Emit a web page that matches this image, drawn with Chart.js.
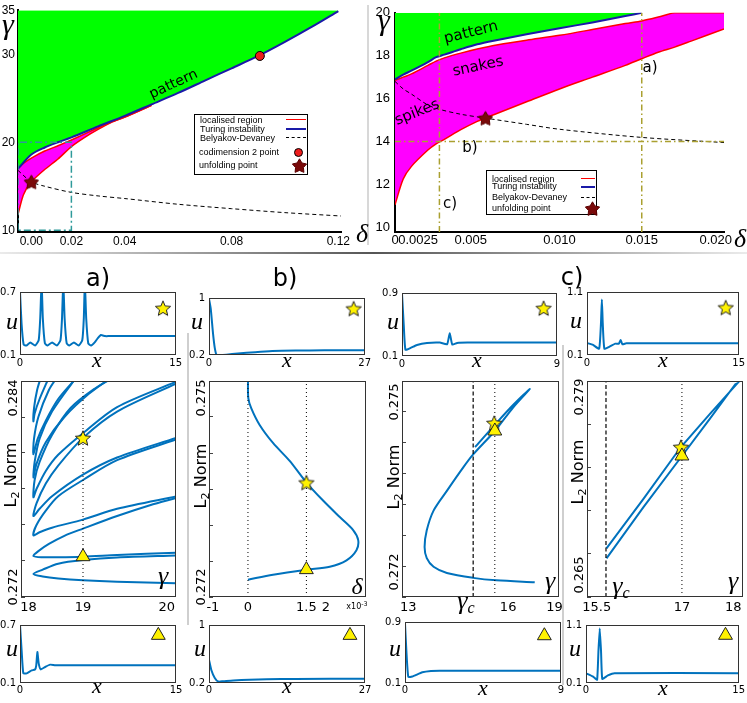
<!DOCTYPE html>
<html><head><meta charset="utf-8">
<script src="https://cdn.jsdelivr.net/npm/chart.js"></script>
<style>
html,body{margin:0;padding:0;background:#fff;}
body{width:747px;height:703px;position:relative;overflow:hidden;font-family:'DejaVu Sans',sans-serif;color:#000;}
canvas{position:absolute;}
.t{position:absolute;white-space:nowrap;line-height:1;}
.leg{position:absolute;background:#fff;border:1px solid #000;box-sizing:border-box;font-family:'Liberation Sans',sans-serif;}
.leg div{position:absolute;white-space:nowrap;line-height:1;}
</style></head><body>
<script>
// ================= DATA =================
// --- top-left phase diagram (delta, gamma) ---
const tlRedDelta   = [0,0.002,0.005,0.01,0.015,0.02,0.025,0.03,0.035,0.04,0.05];
const tlRedUpper   = [17.0,17.6,18.2,19.0,19.6,20.25,20.95,21.65,22.3,22.85,24.2];
const tlRedLower   = [11.8,14.0,15.5,16.9,18.1,19.5,20.55,21.45,22.25,22.85,24.2];
const tlTuringDelta= [0,0.005,0.01,0.015,0.02,0.03,0.04,0.05,0.06,0.07,0.08,0.09,0.1,0.11,0.12];
const tlTuringGamma= [17.0,18.6,19.4,20.0,20.55,21.8,23.0,24.3,25.6,27.0,28.4,29.8,31.4,33.1,34.9];
const tlBDDelta    = [0,0.005,0.01,0.02,0.03,0.04,0.06,0.08,0.1,0.122];
const tlBDGamma    = [16.8,15.5,15.0,14.3,13.9,13.6,12.95,12.45,12.0,11.6];
const tlBoxDelta   = [0,0,0.02,0.02,0];
const tlBoxGamma   = [10,20,20,10,10];
const tlUnfold     = [0.005,15.5];
const tlCodim      = [0.0906,29.8];
const tlXTicks     = [0.005,0.02,0.04,0.06,0.08,0.1,0.12];
const tlXLabels    = ['0.00','0.02','0.04','','0.08','','0.12'];
const tlYTicks     = [10,15,20,25,30,35];
const tlYLabels    = ['10','','20','','30','35'];

// --- top-right zoomed phase diagram ---
const trDelta      = [0,0.0005,0.001,0.002,0.0025,0.003,0.004,0.005,0.006,0.008,0.01,0.012,0.014,0.015,0.016,0.017,0.018,0.02];
const trRedUpper   = [16.85,17.0,17.15,17.55,17.75,17.9,18.12,18.31,18.48,18.72,18.95,19.22,19.5,19.62,19.8,20.0,20.0,20.0];
const trRedLower   = [11.05,12.25,12.84,13.6,13.89,14.1,14.55,14.94,15.25,15.85,16.45,17.0,17.55,17.86,18.16,18.4,18.68,19.25];
const trTuringDelta= [0,0.0005,0.001,0.002,0.0025,0.003,0.004,0.005,0.006,0.008,0.01,0.012,0.014,0.015];
const trTuringGamma= [16.9,17.12,17.3,17.7,17.93,18.05,18.3,18.53,18.7,19.0,19.28,19.55,19.85,20.0];
const trBDDelta    = [0,0.0005,0.001,0.002,0.0027,0.004,0.0055,0.008,0.01,0.015,0.02];
const trBDGamma    = [16.8,16.45,16.21,15.7,15.5,15.27,15.09,14.8,14.57,14.19,13.95];
const trUnfold     = [0.0055,15.09];
const trCutADelta  = [0.015,0.015];   const trCutAGamma = [9.78,20];
const trCutCDelta  = [0.0027,0.0027]; const trCutCGamma = [9.78,20];
const trCutBDelta  = [0,0.02];        const trCutBGamma = [14,14];
const trXTicks     = [0,0.0014,0.0046,0.01,0.015,0.0195];
const trXLabels    = ['0','0.0025','0.005','0.010','0.015','0.020'];
const trYTicks     = [10,12,14,16,18,20];
const trYLabels    = ['10','12','14','16','18','20'];

// --- row 1: profiles at the star (x, u) ---
const r1aX = [0,0.15,0.35,0.6,1.0,1.45,1.8,1.95,2.08,2.2,2.4,2.65,3.1,3.55,3.9,4.05,4.17,4.3,4.5,4.75,5.2,5.65,6.0,6.15,6.25,6.38,6.58,6.85,7.2,7.5,7.8,8.2,8.6,15];
const r1aU = [0.70,0.40,0.20,0.19,0.22,0.19,0.24,0.45,0.80,0.45,0.21,0.19,0.22,0.19,0.24,0.45,0.80,0.45,0.21,0.19,0.22,0.19,0.24,0.45,0.80,0.45,0.21,0.19,0.22,0.26,0.29,0.28,0.28,0.28];
const r1bX = [0,0.3,0.7,1.0,1.3,2,3,5,8,11,15,20,27];
const r1bU = [0.99,0.85,0.5,0.3,0.205,0.20,0.205,0.22,0.24,0.255,0.262,0.265,0.265];
const r1cX = [0,0.1,0.2,0.48,0.87,1.45,2.2,2.62,2.77,2.92,3.2,3.8,9];
const r1cU = [0.89,0.5,0.18,0.2,0.24,0.265,0.27,0.25,0.39,0.245,0.265,0.27,0.27];
const r1dX = [0,0.6,1.2,1.38,1.47,1.56,1.72,2.2,2.8,3.15,3.33,3.5,3.9,15];
const r1dU = [0.29,0.26,0.20,0.6,0.98,0.6,0.20,0.23,0.28,0.28,0.34,0.27,0.285,0.285];
const r1StarX = [13.78,25.1,8.22,13.72];
const r1StarU = [0.547,0.852,0.708,0.854];

// --- row 3: profiles at the triangle ---
const r3aX = [0,0.16,0.32,0.64,1.12,1.44,1.56,1.67,1.8,2.0,2.4,2.9,3.4,15];
const r3aU = [0.7,0.43,0.2,0.2,0.23,0.24,0.28,0.42,0.3,0.24,0.265,0.29,0.283,0.283];
const r3bX = [0,0.4,1.0,1.6,2.5,4.2,7,10,15,27];
const r3bU = [0.52,0.38,0.27,0.22,0.225,0.235,0.245,0.252,0.256,0.258];
const r3cX = [0,0.08,0.19,0.42,1.0,1.5,2.0,9];
const r3cU = [0.88,0.52,0.18,0.185,0.24,0.258,0.262,0.262];
const r3dX = [0,0.7,1.09,1.22,1.35,1.48,1.6,2.15,2.8,15];
const r3dU = [0.267,0.21,0.155,0.64,1.04,0.64,0.17,0.23,0.27,0.27];
const r3TriX = [13.3,24.4,8.04,13.71];
const r3TriU = [0.593,0.857,0.72,0.923];

// --- row 2: bifurcation diagrams (parameter, L2 norm) ---
const snT1G = [20.5,19.55,19.0,18.6,18.35,18.2,18.35,18.6,19.0,19.55,20.5];
const snT1N = [0.27277,0.27285,0.27293,0.27303,0.27314,0.27328,0.27352,0.27385,0.27405,0.27420,0.27431];
const snT2G = [20.5,19.55,19.0,18.6,18.35,18.2,18.28,18.45,18.7,19.0,19.55,20.08,20.5];
const snT2N = [0.27446,0.27433,0.27424,0.27421,0.27421,0.27428,0.27455,0.27495,0.27540,0.27580,0.27650,0.27710,0.27750];
const snT3G = [20.5,19.55,19.0,18.5,18.3,18.2,18.25,18.4,18.6,19.0,19.55,20.5];
const snT3N = [0.27758,0.27690,0.27630,0.27585,0.27560,0.27543,0.27600,0.27680,0.27760,0.27850,0.27960,0.28075];
const snT4G = [20.5,19.55,19.0,18.5,18.3,18.2,18.25,18.4,18.6,19.0,19.55,20.5];
const snT4N = [0.28084,0.27975,0.27880,0.27760,0.27690,0.27650,0.27720,0.27830,0.27930,0.28084,0.28230,0.28385];
const snT5G = [20.5,19.55,19.0,18.6,18.4,18.25,18.2,18.22,18.3,18.5,18.8,19.2,19.5];
const snT5N = [0.28396,0.28255,0.28110,0.27990,0.27900,0.27800,0.27754,0.27850,0.27950,0.28100,0.28250,0.28360,0.28420];
const snT6G = [19.5,19.1,18.7,18.4,18.25,18.2,18.22,18.3,18.5,18.85,19.0];
const snT6N = [0.28430,0.28330,0.28200,0.28060,0.27940,0.27864,0.27950,0.28080,0.28230,0.28400,0.28460];
const snT7G = [18.9,18.6,18.4,18.27,18.2,18.21,18.28,18.45,18.6];
const snT7N = [0.28420,0.28300,0.28180,0.28080,0.27993,0.28080,0.28200,0.28350,0.28430];
const snT8G = [18.45,18.3,18.22,18.2,18.21,18.26,18.32];
const snT8N = [0.28420,0.28300,0.28220,0.28176,0.28250,0.28350,0.28420];
const bD = [0,0.01,0.086,0.30,0.643,1.071,1.5,1.928,2.357,2.70,2.83,2.785,2.53,2.10,1.5,0.643,0];
const bN = [0.275,0.27476,0.27462,0.27439,0.27414,0.27389,0.27359,0.27334,0.27311,0.27293,0.27279,0.27265,0.27251,0.27242,0.27238,0.27231,0.27224];
const cG = [15.36,16.0,16.59,17.13,16.59,16.0,15.30,14.98,14.45,14.02,13.80,13.73,13.80,14.02,14.45,15.30,16.05,17.29];
const cN = [0.27443,0.27479,0.27511,0.27537,0.27507,0.27469,0.27431,0.27410,0.27372,0.27340,0.27308,0.27281,0.27263,0.27249,0.27239,0.27231,0.27227,0.27224];
const dG = [15.53,16.25,16.98,17.55,18.08,18.04,17.55,17.0,16.25,15.53];
const dN = [0.26815,0.27136,0.27472,0.27688,0.27885,0.27879,0.27658,0.27414,0.27082,0.26750];
const r2StarX = [19.0,1.5,15.98,16.98];
const r2StarN = [0.28084,0.27359,0.27482,0.27472];
const r2TriX  = [19.0,1.5,16.0,17.0];
const r2TriN  = [0.27424,0.27238,0.27469,0.27414];

// ================= HELPERS =================
const SERIF = "'Liberation Serif','DejaVu Serif',serif";
const BLUE = '#0072bd';
function starImg(size, fill, stroke, lw, inner) {
  const c = document.createElement('canvas'); c.width = c.height = size;
  const x = c.getContext('2d'); const r = size / 2 - lw; const cx = size / 2, cy = size / 2 + 0.8;
  x.beginPath();
  for (let i = 0; i < 10; i++) { const rr = i % 2 ? r * inner : r; const a = -Math.PI / 2 + i * Math.PI / 5; x.lineTo(cx + rr * Math.cos(a), cy + rr * Math.sin(a)); }
  x.closePath(); x.fillStyle = fill; x.fill(); x.lineWidth = lw; x.strokeStyle = stroke; x.lineJoin = 'round'; x.stroke();
  return c;
}
const yStar = starImg(18, '#fff200', '#222', 1, 0.45);
const rStar = starImg(17, '#7a0a0a', '#5a0000', 1, 0.55);

const pts = (xs, ys) => xs.map((x, i) => ({ x, y: ys[i] }));
function line(xs, ys, o = {}) {
  return Object.assign({ data: pts(xs, ys), showLine: true, pointRadius: 0, borderColor: BLUE, borderWidth: 2, fill: false, tension: 0.3 }, o);
}
function mark(x, y, o) { return Object.assign({ data: [{ x, y }], showLine: false, pointRadius: 8 }, o); }
const starMark = (x, y) => mark(x, y, { pointStyle: yStar, pointRadius: 8 });
const triMark = (x, y) => mark(x, y, { pointStyle: 'triangle', pointRadius: 8, backgroundColor: '#fff200', borderColor: '#222', borderWidth: 1 });

const framePlugin = {
  id: 'frame',
  afterDatasetsDraw(chart, args, opts) {
    if (!opts || !opts.color) return;
    const a = chart.chartArea, ctx = chart.ctx;
    ctx.save(); ctx.strokeStyle = opts.color; ctx.lineWidth = 1;
    ctx.strokeRect(Math.round(a.left) + 0.5, Math.round(a.top) + 0.5, Math.round(a.right - a.left) - 1, Math.round(a.bottom - a.top) - 1);
    ctx.restore();
  }
};
function axis(s, horiz, size) {
  return {
    type: 'linear', min: s.min, max: s.max, z: s.z || 0,
    afterFit(sc) { if (horiz) sc.height = size; else sc.width = size; },
    afterBuildTicks(sc) { sc.ticks = s.ticks.map(v => ({ value: v })); },
    ticks: {
      display: true, autoSkip: false, maxRotation: 0, minRotation: 0,
      padding: s.pad == null ? 3 : s.pad, color: '#000',
      font: { family: s.ff || 'DejaVu Sans', size: s.fs || 10 },
      callback: (v, i) => (s.labels ? s.labels[i] : '')
    },
    grid: { display: true, drawOnChartArea: false, drawTicks: !!s.tl, tickLength: s.tl || 0, color: '#444', lineWidth: 1 },
    border: { display: !!s.bw, color: '#000', width: s.bw || 1 }
  };
}
function plot(rect, m, datasets, xs, ys, frameColor) {
  const [L, T, R, B] = rect, [ml, mt, mr, mb] = m;
  const W = R - L + ml + mr, H = B - T + mt + mb;
  const cv = document.createElement('canvas');
  cv.width = W; cv.height = H;
  Object.assign(cv.style, { left: (L - ml) + 'px', top: (T - mt) + 'px', width: W + 'px', height: H + 'px' });
  document.body.appendChild(cv);
  return new Chart(cv, {
    type: 'scatter',
    data: { datasets },
    options: {
      responsive: false, maintainAspectRatio: false, animation: false, devicePixelRatio: 1, events: [],
      layout: { autoPadding: false, padding: { left: 0, top: mt, right: mr, bottom: 0 } },
      plugins: { legend: { display: false }, tooltip: { enabled: false }, frame: { color: frameColor || null } },
      scales: { x: axis(xs, true, mb), y: axis(ys, false, ml) }
    },
    plugins: [framePlugin]
  });
}
function txt(html, x, y, fs, o = {}) {
  const d = document.createElement('div'); d.className = 't'; d.innerHTML = html;
  d.style.left = x + 'px'; d.style.top = y + 'px'; d.style.fontSize = fs + 'px';
  if (o.ff) d.style.fontFamily = o.ff;
  if (o.it) d.style.fontStyle = 'italic';
  if (o.color) d.style.color = o.color;
  d.style.transform = 'translate(-50%,-50%)' + (o.rot ? ' rotate(' + o.rot + 'deg)' : '');
  document.body.appendChild(d);
}
function rule(x, y, w, h, bg) {
  const d = document.createElement('div');
  Object.assign(d.style, { position: 'absolute', left: x + 'px', top: y + 'px', width: w + 'px', height: h + 'px', background: bg });
  document.body.appendChild(d);
}
const gi = (s, x, y, fs) => txt(s, x, y, fs, { ff: SERIF, it: true });
const blank = a => a.map(() => '');
const range = (a, b, st) => { const r = []; for (let v = a; v <= b + st / 1000; v += st) r.push(+v.toFixed(6)); return r; };

// ================= TOP PANELS =================
plot([18, 9, 341, 232], [18, 9, 22, 20], [
  mark(tlCodim[0], tlCodim[1], { pointStyle: 'circle', pointRadius: 4.5, backgroundColor: '#ee1c1c', borderColor: '#000', borderWidth: 1 }),
  mark(tlUnfold[0], tlUnfold[1], { pointStyle: rStar, pointRadius: 8 }),
  line(tlBoxDelta, tlBoxGamma, { borderColor: '#2e9a9a', borderWidth: 1.5, borderDash: [7, 3, 2, 3], tension: 0 }),
  line(tlBDDelta, tlBDGamma, { borderColor: '#000', borderWidth: 1, borderDash: [4, 3] }),
  line(tlTuringDelta, tlTuringGamma, { borderColor: '#1a1aa8', borderWidth: 2, fill: 'end', backgroundColor: '#00ff00' }),
  line(tlRedDelta, tlRedUpper, { borderColor: '#ff0000', borderWidth: 1.5, tension: 0.2 }),
  line(tlRedDelta, tlRedLower, { borderColor: '#ff0000', borderWidth: 1.5, fill: 5, backgroundColor: '#ff00ff', tension: 0.2 })
], { min: 0, max: 0.121, ticks: tlXTicks, labels: tlXLabels, ff: 'Liberation Sans', fs: 12, pad: 2, bw: 2, z: 1 },
   { min: 9.8, max: 35, ticks: tlYTicks, labels: tlYLabels, ff: 'Liberation Sans', fs: 12, pad: 3, bw: 2, z: 1 });

plot([395, 4, 724, 232], [22, 4, 23, 20], [
  mark(trUnfold[0], trUnfold[1], { pointStyle: rStar, pointRadius: 8 }),
  line(trCutADelta, trCutAGamma, { borderColor: '#aaa030', borderWidth: 1.5, borderDash: [6, 3, 1.5, 3], tension: 0 }),
  line(trCutCDelta, trCutCGamma, { borderColor: '#aaa030', borderWidth: 1.5, borderDash: [6, 3, 1.5, 3], tension: 0 }),
  line(trCutBDelta, trCutBGamma, { borderColor: '#aaa030', borderWidth: 1.5, borderDash: [6, 3, 1.5, 3], tension: 0 }),
  line(trBDDelta, trBDGamma, { borderColor: '#000', borderWidth: 1, borderDash: [4, 3] }),
  line(trTuringDelta, trTuringGamma, { borderColor: '#1a1aa8', borderWidth: 2, fill: 'end', backgroundColor: '#00ff00' }),
  line(trDelta, trRedUpper, { borderColor: '#ff0000', borderWidth: 1.5 }),
  line(trDelta, trRedLower, { borderColor: '#ff0000', borderWidth: 1.5, fill: 6, backgroundColor: '#ff00ff' })
], { min: 0, max: 0.02, ticks: trXTicks, labels: trXLabels, ff: 'Liberation Sans', fs: 13, pad: 1, bw: 2, z: 1 },
   { min: 9.78, max: 20, ticks: trYTicks, labels: trYLabels, ff: 'Liberation Sans', fs: 13, pad: 5, bw: 2, z: 1 });

// ================= ROW 1 =================
const F = '#333';
plot([20, 292, 176, 355], [20, 10, 8, 14], [starMark(r1StarX[0], r1StarU[0]), line(r1aX, r1aU, { tension: 0.15 })],
  { min: 0, max: 15, ticks: [0, 15], labels: ['0', '15'], pad: 2 }, { min: 0.1, max: 0.7, ticks: [0.1, 0.7], labels: ['0.1', '0.7'], pad: 4 }, F);
plot([209, 298, 365, 355], [24, 10, 8, 14], [starMark(r1StarX[1], r1StarU[1]), line(r1bX, r1bU, { tension: 0.2 })],
  { min: 0, max: 27, ticks: [0, 27], labels: ['0', '27'], pad: 2 }, { min: 0.2, max: 1, ticks: [0.2, 1], labels: ['0.2', '1'], pad: 4 }, F);
plot([402, 293, 557, 356], [24, 10, 8, 14], [starMark(r1StarX[2], r1StarU[2]), line(r1cX, r1cU, { tension: 0.15 })],
  { min: 0, max: 9, ticks: [0, 9], labels: ['0', '9'], pad: 2 }, { min: 0.1, max: 0.9, ticks: [0.1, 0.9], labels: ['0.1', '0.9'], pad: 4 }, F);
plot([587, 292, 743, 355], [24, 10, 4, 14], [starMark(r1StarX[3], r1StarU[3]), line(r1dX, r1dU, { tension: 0.15 })],
  { min: 0, max: 15, ticks: [0, 15], labels: ['0', '15'], pad: 2 }, { min: 0.1, max: 1.1, ticks: [0.1, 1.1], labels: ['0.1', '1.1'], pad: 4 }, F);

// ================= ROW 2 =================
const dotted = (x, y0, y1) => line([x, x], [y0, y1], { borderColor: '#000', borderWidth: 1, borderDash: [1, 3], tension: 0 });
const dashed = (x, y0, y1) => line([x, x], [y0, y1], { borderColor: '#000', borderWidth: 1.2, borderDash: [4, 2.5], tension: 0 });
const yT1 = range(0.272, 0.284, 0.002), yT2 = range(0.272, 0.275, 0.0005), yT3 = range(0.272, 0.2755, 0.0005), yT4 = range(0.265, 0.279, 0.0028);
plot([21, 379, 176, 597], [21, 8, 6, 16], [
  starMark(r2StarX[0], r2StarN[0]), triMark(r2TriX[0], r2TriN[0]), dotted(19, 0.272, 0.284),
  line(snT1G, snT1N), line(snT2G, snT2N), line(snT3G, snT3N), line(snT4G, snT4N),
  line(snT5G, snT5N), line(snT6G, snT6N), line(snT7G, snT7N), line(snT8G, snT8N)
], { min: 18, max: 20.5, ticks: [18.12, 19, 20.35], labels: ['18', '19', '20'], fs: 13, pad: 3 },
   { min: 0.272, max: 0.284, ticks: yT1, labels: blank(yT1), tl: -4, pad: 4 }, F);
plot([209, 379, 366, 597], [24, 8, 6, 16], [
  starMark(r2StarX[1], r2StarN[1]), triMark(r2TriX[1], r2TriN[1]), dotted(0, 0.272, 0.275), dotted(1.5, 0.272, 0.275),
  line(bD, bN)
], { min: -1, max: 3.03, ticks: [-0.9, 0, 1.5, 2], labels: ['-1', '0', '1.5', '2'], fs: 13, pad: 3 },
   { min: 0.272, max: 0.275, ticks: yT2, labels: blank(yT2), tl: -4, pad: 4 }, F);
plot([402, 379, 560, 597], [24, 8, 6, 16], [
  triMark(r2TriX[2], r2TriN[2]), starMark(r2StarX[2], r2StarN[2]), dashed(15.3, 0.272, 0.2755), dotted(16, 0.272, 0.2755),
  line(cG, cN, { tension: 0.3 })
], { min: 13, max: 18.09, ticks: [13.2, 16.43, 17.93], labels: ['13', '16', '19'], fs: 13, pad: 3 },
   { min: 0.272, max: 0.2755, ticks: yT3, labels: blank(yT3), tl: -4, pad: 4 }, F);
plot([587, 379, 743, 597], [24, 8, 4, 16], [
  triMark(r2TriX[3], r2TriN[3]), starMark(r2StarX[3], r2StarN[3]), dashed(15.52, 0.265, 0.279), dotted(17, 0.265, 0.279),
  line(dG, dN, { tension: 0 })
], { min: 15.15, max: 18.19, ticks: [15.34, 17, 18], labels: ['15.5', '17', '18'], fs: 13, pad: 3 },
   { min: 0.265, max: 0.279, ticks: yT4, labels: blank(yT4), tl: -4, pad: 4 }, F);

// ================= ROW 3 =================
plot([20, 623, 176, 683], [20, 8, 8, 14], [triMark(r3TriX[0], r3TriU[0]), line(r3aX, r3aU, { tension: 0.15 })],
  { min: 0, max: 15, ticks: [0, 15], labels: ['0', '15'], pad: 1 }, { min: 0.1, max: 0.7, ticks: [0.1, 0.7], labels: ['0.1', '0.7'], pad: 4 }, F);
plot([209, 623, 365, 683], [24, 8, 8, 14], [triMark(r3TriX[1], r3TriU[1]), line(r3bX, r3bU, { tension: 0.2 })],
  { min: 0, max: 27, ticks: [0, 27], labels: ['0', '27'], pad: 1 }, { min: 0.2, max: 1, ticks: [0.2, 1], labels: ['0.2', '1'], pad: 4 }, F);
plot([405, 620, 561, 683], [24, 8, 8, 14], [triMark(r3TriX[2], r3TriU[2]), line(r3cX, r3cU, { tension: 0.15 })],
  { min: 0, max: 9, ticks: [0, 9], labels: ['0', '9'], pad: 1 }, { min: 0.1, max: 0.9, ticks: [0.1, 0.9], labels: ['0.1', '0.9'], pad: 4 }, F);
plot([586, 623, 742, 683], [24, 8, 4, 14], [triMark(r3TriX[3], r3TriU[3]), line(r3dX, r3dU, { tension: 0.12 })],
  { min: 0, max: 15, ticks: [0, 15], labels: ['0', '15'], pad: 1 }, { min: 0.1, max: 1.1, ticks: [0.1, 1.1], labels: ['0.1', '1.1'], pad: 4 }, F);

// ================= SEPARATORS =================
rule(0, 252, 747, 2, 'linear-gradient(to right, rgba(120,120,120,0.15), #555 50%, rgba(120,120,120,0.15))');
rule(367, 5, 2, 240, '#d8d8d8');
rule(187, 333, 2, 292, '#cfcfcf');
rule(562, 345, 2, 340, '#cfcfcf');

// ================= TEXT =================
gi('γ', 8, 24, 30); gi('δ', 362, 234, 26);
gi('γ', 384, 20, 30); gi('δ', 740, 239, 26);
txt('pattern', 173, 83, 14, { rot: -25 });
txt('pattern', 471, 32, 15, { rot: -14 });
txt('snakes', 478, 66, 15, { rot: -12 });
txt('spikes', 417, 112, 15, { rot: -22 });
txt('a)', 650, 67, 15); txt('b)', 470, 147, 15); txt('c)', 450, 203, 15);

txt('a)', 98, 278, 24); txt('b)', 285, 278, 24); txt('c)', 572, 277, 24);

[[12, 321], [197, 321], [393, 321], [576, 320], [12, 648], [200, 648], [395, 648], [575, 648]].forEach(p => gi('u', p[0], p[1], 24));
[[97, 360], [287, 360], [477, 360], [663, 360], [97, 686], [287, 686], [483, 688], [663, 688]].forEach(p => gi('x', p[0], p[1], 22));

const L2 = 'L<span style="font-size:0.7em;position:relative;top:0.3em">2</span> Norm';
[[11, 475], [201, 476], [394, 477], [578, 472]].forEach(p => txt(L2, p[0], p[1], 16, { rot: -90 }));
[['0.284', 12, 398], ['0.272', 12, 587], ['0.275', 200, 398], ['0.272', 200, 587],
 ['0.275', 393, 402], ['0.272', 393, 572], ['0.279', 578, 397], ['0.265', 578, 575]].forEach(a => txt(a[0], a[1], a[2], 13, { rot: -90 }));
gi('γ', 163, 576, 26); gi('δ', 357, 586, 24); gi('γ', 550, 581, 26); gi('γ', 733, 581, 26);
const GC = 'γ<span style="font-size:0.62em;position:relative;top:0.25em">c</span>';
gi(GC, 466, 601, 26); gi(GC, 621, 586, 26);
txt('x10<span style="font-size:0.8em;position:relative;top:-0.4em">-3</span>', 357, 607, 8);

// ================= LEGENDS =================
function legend(x, y, w, h, fs, items) {
  const box = document.createElement('div'); box.className = 'leg';
  Object.assign(box.style, { left: x + 'px', top: y + 'px', width: w + 'px', height: h + 'px', fontSize: fs + 'px' });
  items.forEach(it => {
    const t = document.createElement('div'); t.textContent = it.text;
    t.style.left = it.tx + 'px'; t.style.top = (it.y - fs / 2) + 'px'; box.appendChild(t);
    if (it.kind === 'line') {
      const l = document.createElement('div');
      Object.assign(l.style, { left: it.mx + 'px', top: (it.y - 1) + 'px', width: it.mw + 'px', height: '0px', borderTop: it.style });
      box.appendChild(l);
    } else if (it.kind === 'circle') {
      const c = document.createElement('div');
      Object.assign(c.style, { left: (it.mx - 4) + 'px', top: (it.y - 4) + 'px', width: '7px', height: '7px', borderRadius: '50%', background: '#ee1c1c', border: '1px solid #000' });
      box.appendChild(c);
    } else if (it.kind === 'star') {
      const s = starImg(17, '#7a0a0a', '#5a0000', 1, 0.55);
      Object.assign(s.style, { left: (it.mx - 8.5) + 'px', top: (it.y - 8.5) + 'px', width: '17px', height: '17px' });
      box.appendChild(s);
    }
  });
  document.body.appendChild(box);
}
legend(194, 114, 114, 61, 9, [
  { text: 'localised region', tx: 5, y: 5, kind: 'line', mx: 91, mw: 20, style: '1.5px solid #ff0000' },
  { text: 'Turing instability', tx: 5, y: 14, kind: 'line', mx: 91, mw: 20, style: '2px solid #1a1aa8' },
  { text: 'Belyakov-Devaney', tx: 5, y: 23, kind: 'line', mx: 91, mw: 20, style: '1px dashed #000' },
  { text: 'codimension 2 point', tx: 4, y: 37, kind: 'circle', mx: 103 },
  { text: 'unfolding point', tx: 4, y: 50, kind: 'star', mx: 104 }
]);
legend(486, 170, 111, 45, 9, [
  { text: 'localised region', tx: 5, y: 8, kind: 'line', mx: 94, mw: 14, style: '1.5px solid #ff0000' },
  { text: 'Turing instability', tx: 5, y: 15.5, kind: 'line', mx: 94, mw: 14, style: '2px solid #1a1aa8' },
  { text: 'Belyakov-Devaney', tx: 5, y: 26.5, kind: 'line', mx: 94, mw: 14, style: '1px dashed #000' },
  { text: 'unfolding point', tx: 5, y: 37.5, kind: 'star', mx: 105 }
]);
</script></body></html>
